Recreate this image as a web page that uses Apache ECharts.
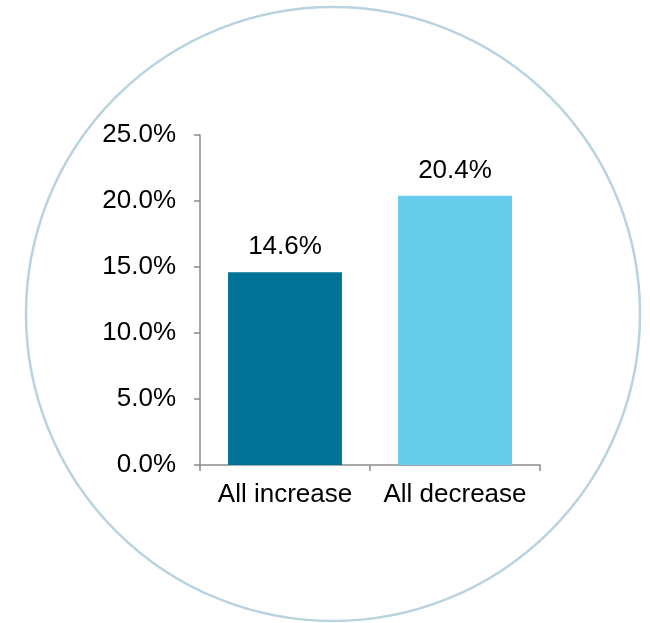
<!DOCTYPE html>
<html><head><meta charset="utf-8">
<script src="https://cdn.jsdelivr.net/npm/echarts@6/dist/echarts.min.js"></script>
<style>html,body{margin:0;padding:0;background:#fff}#c{width:650px;height:623px}</style>
</head><body><div id="c"></div>
<script>
const categories = ['All increase', 'All decrease'];
const values = [14.6, 20.4];
const barColors = ['#007397', '#65CDE9'];
const yTicks = [0, 5, 10, 15, 20, 25];

const chart = echarts.init(document.getElementById('c'), null, {renderer: 'canvas'});
const font = 'Liberation Sans, Arial, sans-serif';
chart.setOption({
  animation: false,
  graphic: [{
    type: 'circle', shape: {cx: 333, cy: 314, r: 307}, z: -1,
    style: {fill: 'none', stroke: '#b9d3df', lineWidth: 2.5}
  }],
  grid: {left: 200, right: 110, top: 135, bottom: 158},
  xAxis: {
    type: 'category', data: categories,
    axisLine: {lineStyle: {color: '#8c8c8c', width: 1.5}},
    axisTick: {show: true, length: 6, lineStyle: {color: '#8c8c8c', width: 1.5}},
    axisLabel: {color: '#000', fontSize: 26, fontFamily: font, margin: 17, interval: 0}
  },
  yAxis: {
    type: 'value', min: yTicks[0], max: yTicks[yTicks.length - 1], interval: 5,
    splitLine: {show: false},
    axisLine: {show: true, lineStyle: {color: '#8c8c8c', width: 1.5}},
    axisTick: {show: true, length: 6, lineStyle: {color: '#8c8c8c', width: 1.5}},
    axisLabel: {color: '#000', fontSize: 26, fontFamily: font, margin: 24,
      formatter: v => v.toFixed(1) + '%'}
  },
  series: [{
    type: 'bar', barCategoryGap: '33%',
    data: values.map((v, i) => ({value: v, itemStyle: {color: barColors[i]}})),
    label: {show: true, position: 'top', distance: 12, color: '#000', fontSize: 26,
      fontFamily: font, formatter: p => p.value.toFixed(1) + '%'}
  }]
});
</script></body></html>
